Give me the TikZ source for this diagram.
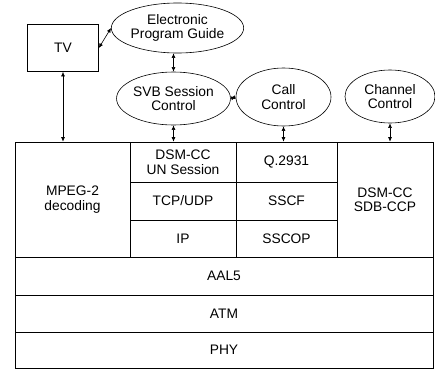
\documentclass[tikz,border=0pt]{standalone}
\usepackage{fontspec}
\setmainfont{Liberation Sans}
\usetikzlibrary{arrows.meta,shapes.geometric}
\tikzset{
  layer/.style ={draw,align=center,inner sep=0pt},
  proc/.style  ={draw,ellipse,align=center,inner sep=0pt},
  link/.style  ={{Latex[length=1.6mm,width=1.4mm]}-{Latex[length=1.6mm,width=1.4mm]},line width=0.6pt}
}

\begin{document}
\begin{tikzpicture}[x=1pt,y=-1pt,line width=0.6pt,font=\fontsize{13.8}{14.5}\selectfont]
  \useasboundingbox (0,0) rectangle (435,372);
  % terminal and control entities
  \node[layer,minimum width=71pt,minimum height=47pt] (tv) at (63,48) {TV};
  \node[proc,minimum width=109pt,minimum height=50pt] (epg) at (177.5,28) {Electronic\\Program Guide};
  \node[proc,minimum width=93pt,minimum height=53pt] (svb) at (173.5,98.5) {SVB Session\\Control};
  \node[proc,minimum width=95pt,minimum height=58pt] (call) at (283.5,97) {Call\\Control};
  \node[proc,minimum width=90pt,minimum height=53pt] (chan) at (390,96.5) {Channel\\Control};
  % protocol stack
  \node[layer,minimum width=115pt,minimum height=115pt] (mpeg) at (72.5,199.5) {MPEG-2\\decoding};
  \node[layer,minimum width=106pt,minimum height=40pt] (un) at (183,162) {DSM-CC\\UN Session};
  \node[layer,minimum width=106pt,minimum height=38pt] (tcp) at (183,201) {TCP/UDP};
  \node[layer,minimum width=106pt,minimum height=37pt] (ip) at (183,238.5) {IP};
  \node[layer,minimum width=101pt,minimum height=40pt] (q2931) at (286.5,162) {Q.2931};
  \node[layer,minimum width=101pt,minimum height=38pt] (sscf) at (286.5,201) {SSCF};
  \node[layer,minimum width=101pt,minimum height=37pt] (sscop) at (286.5,238.5) {SSCOP};
  \node[layer,minimum width=96pt,minimum height=115pt] (sdb) at (385,199.5) {DSM-CC\\SDB-CCP};
  \node[layer,minimum width=418pt,minimum height=38pt] (aal5) at (224,276) {AAL5};
  \node[layer,minimum width=418pt,minimum height=37pt] (atm) at (224,313.5) {ATM};
  \node[layer,minimum width=418pt,minimum height=36pt] (phy) at (224,350) {PHY};
  % connectors
  \draw[link] (tv.east) -- (epg.west);
  \draw[link] (tv.south) -- (tv.south |- mpeg.north);
  \draw[link] (svb.north) -- (epg.south -| svb.north);
  \draw[link] (svb.south) -- (svb.south |- un.north);
  \draw[link] (svb.east) -- (call.west);
  \draw[link] (call.south) -- (call.south |- q2931.north);
  \draw[link] (chan.south) -- (chan.south |- sdb.north);
\end{tikzpicture}
\end{document}
